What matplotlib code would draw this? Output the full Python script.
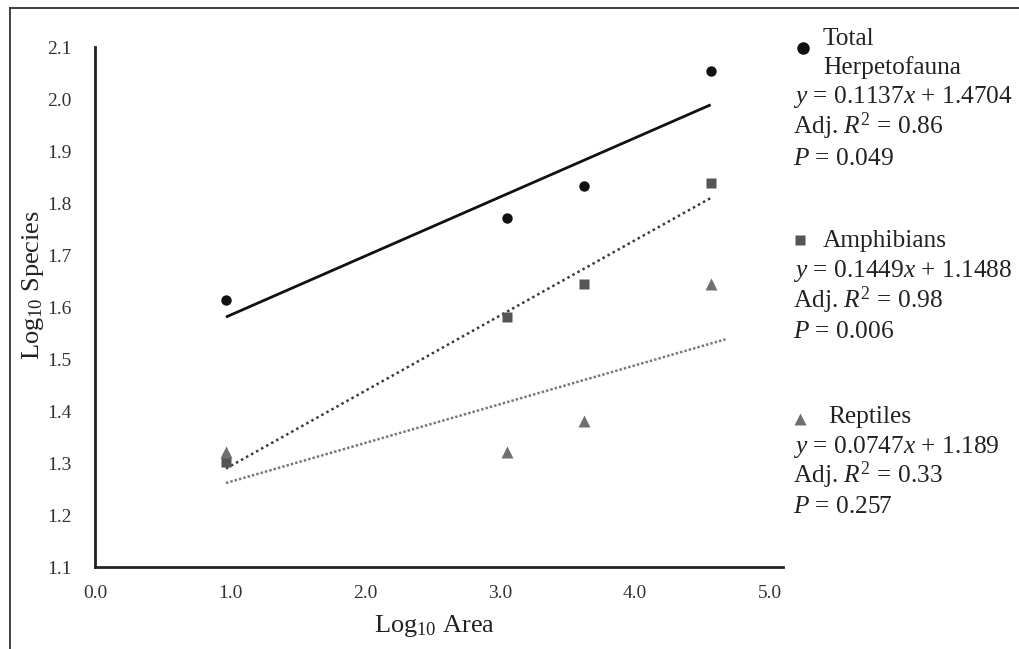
import matplotlib
matplotlib.use("Agg")
import matplotlib.pyplot as plt
from matplotlib.lines import Line2D

plt.rcParams['font.family'] = ['Liberation Serif', 'DejaVu Serif']
plt.rcParams['mathtext.fontset'] = 'custom'
plt.rcParams['mathtext.rm'] = 'Liberation Serif'
plt.rcParams['mathtext.it'] = 'Liberation Serif:italic'

# Data
log_area = [0.97, 3.05, 3.62, 4.56]
total_species = [1.613, 1.771, 1.833, 2.053]
amphibian_species = [1.301, 1.580, 1.644, 1.839]
reptile_species = [1.322, 1.322, 1.380, 1.644]

# Regression fits (slope, intercept) and fitted x range
total_fit = (0.1137, 1.4704)
amph_fit = (0.1449, 1.1488)
rept_fit = (0.0747, 1.189)
total_fit_x = [0.97, 4.56]
amph_fit_x = [0.97, 4.56]
rept_fit_x = [0.97, 4.67]

x_ticks = [0.0, 1.0, 2.0, 3.0, 4.0, 5.0]
y_ticks = [1.1, 1.2, 1.3, 1.4, 1.5, 1.6, 1.7, 1.8, 1.9, 2.0, 2.1]

legend_total = ["Total", "Herpetofauna", r"$y$ = 0.1137$x$ + 1.4704", r"Adj. $R^2$ = 0.86", r"$P$ = 0.049"]
legend_amph = ["Amphibians", r"$y$ = 0.1449$x$ + 1.1488", r"Adj. $R^2$ = 0.98", r"$P$ = 0.006"]
legend_rept = ["Reptiles", r"$y$ = 0.0747$x$ + 1.189", r"Adj. $R^2$ = 0.33", r"$P$ = 0.257"]

W, H = 1019, 649
fig = plt.figure(figsize=(W / 100, H / 100), dpi=100)

def fx(px):
    return px / W

def fy(py):
    return 1 - py / H

ax = fig.add_axes([fx(95), fy(567), fx(783) - fx(95), fy(47) - fy(567)])
ax.set_xlim(0, 5.096)
ax.set_ylim(1.1, 2.1)

def fitline(fit, xs):
    return [fit[0] * x + fit[1] for x in xs]

ax.plot(total_fit_x, fitline(total_fit, total_fit_x), color='#111111', lw=2.0, solid_capstyle='butt')
ax.plot(amph_fit_x, fitline(amph_fit, amph_fit_x), color='#3a3a3a', lw=1.8, linestyle=(0, (1, 1.3)))
ax.plot(rept_fit_x, fitline(rept_fit, rept_fit_x), color='#7a7a7a', lw=1.8, linestyle=(0, (1, 0.8)))

ax.plot(log_area, total_species, 'o', color='#111111', ms=7.5, mec='none')
ax.plot(log_area, amphibian_species, 's', color='#555555', ms=7.5, mec='none')
ax.plot(log_area, reptile_species, '^', color='#707070', ms=8.5, mec='none')

ax.set_xticks(x_ticks)
ax.set_xticklabels([f"{v:.1f}" for v in x_ticks])
ax.set_yticks(y_ticks)
ax.set_yticklabels([f"{v:.1f}" for v in y_ticks])
ax.tick_params(axis='both', length=0, labelsize=14, colors='#333333')
ax.tick_params(axis='x', pad=13)
ax.tick_params(axis='y', pad=17)
for s in ['top', 'right']:
    ax.spines[s].set_visible(False)
for s in ['left', 'bottom']:
    ax.spines[s].set_linewidth(2.0)
    ax.spines[s].set_color('#222222')

fig.text(fx(435), fy(632), r"Log$_{10}$ Area", ha='center', va='baseline', fontsize=19, color='#222222')
fig.text(fx(33), fy(285), r"Log$_{10}$ Species", ha='center', va='center', rotation=90, fontsize=19, color='#222222')

# Legend block
fs = 18.3
def put(x, y, s):
    fig.text(fx(x), fy(y), s, ha='left', va='baseline', fontsize=fs, color='#222222')

fig.add_artist(Line2D([fx(803)], [fy(48)], marker='o', color='#111111', ms=9, mec='none', transform=fig.transFigure))
put(823, 45, legend_total[0])
put(823, 74, legend_total[1])
put(793, 103, legend_total[2])
put(793, 134, legend_total[3])
put(793, 165, legend_total[4])

fig.add_artist(Line2D([fx(800)], [fy(240)], marker='s', color='#555555', ms=7.5, mec='none', transform=fig.transFigure))
put(823, 247, legend_amph[0])
put(793, 277, legend_amph[1])
put(793, 308, legend_amph[2])
put(793, 338, legend_amph[3])

fig.add_artist(Line2D([fx(800)], [fy(419)], marker='^', color='#707070', ms=8.5, mec='none', transform=fig.transFigure))
put(828, 423, legend_rept[0])
put(793, 453, legend_rept[1])
put(793, 483, legend_rept[2])
put(793, 513, legend_rept[3])

# Outer frame (left and top edges)
fig.add_artist(Line2D([fx(10), fx(10)], [fy(8), 0], color='#333333', lw=1.3, transform=fig.transFigure))
fig.add_artist(Line2D([fx(10), 1], [fy(8), fy(8)], color='#333333', lw=1.3, transform=fig.transFigure))

fig.savefig("out.png", dpi=100)
